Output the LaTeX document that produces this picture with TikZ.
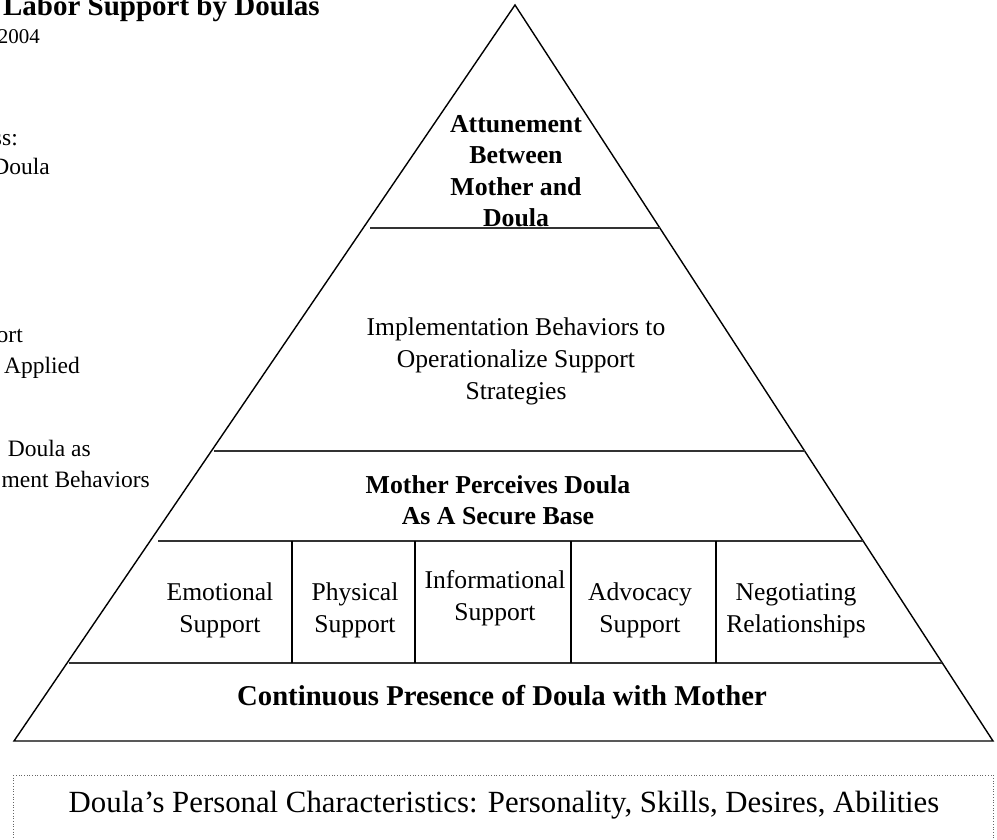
\documentclass[tikz,border=0pt]{standalone}
\usepackage{fontspec}
\setmainfont{Liberation Serif}
\usetikzlibrary{positioning}

\begin{document}
\begin{tikzpicture}[
  x=1pt, y=-1pt,
  % ---- Text styles ----
  txt/.style={align=center, inner sep=0pt, font=\fontsize{25.6}{32}\selectfont},
  btxt/.style={align=center, inner sep=0pt, font=\fontsize{25.8}{31.5}\selectfont\bfseries},
  side/.style={inner sep=0pt, anchor=base east, font=\fontsize{23.5}{28}\selectfont},
  % ---- Lines ----
  edge/.style={line width=1.4pt, line join=miter},
  tier/.style={line width=1.6pt, draw=black!80},
  cell/.style={line width=1.3pt},
  frame/.style={dotted, line width=0.7pt, draw=black!60}
]
\useasboundingbox (0,0) rectangle (997,840);

% ===== Pyramid outline (x, y in px, y downwards) =====
\coordinate (apex) at (515,5);
\coordinate (bl)   at (14,741);
\coordinate (br)   at (993,741);
\draw[edge] (apex) -- (br) -- (bl) -- cycle;

% ===== Tier lines =====
\draw[tier] (370,228) -- (659.8,228);
\draw[tier] (214,451) -- (804.7,451);
\draw[tier] (158,541) -- (863,541);
\draw[tier] (69,663)  -- (942,663);

% cell dividers
\foreach \cx in {292,415,571,716}
  \draw[cell] (\cx,541) -- (\cx,663);

% ===== Tier texts =====
\node[btxt] (attune) at (516,171) {Attunement\\Between\\Mother and\\Doula};
\node[txt]  (impl)   at (516,361) {Implementation Behaviors to\\Operationalize Support\\Strategies};
\node[btxt] (secure) at (498,500) {Mother Perceives Doula\\As A Secure Base};

% Row of support cells
\node[txt] (emo)   at (220,610) {Emotional\\Support};
\node[txt] (phys)  at (355,610) {Physical\\Support};
\node[txt] (info)  at (495,598) {Informational\\Support};
\node[txt] (advoc) at (640,610) {Advocacy\\Support};
\node[txt] (nego)  at (796,611) {Negotiating\\Relationships};

% Base tier
\node[btxt, font=\fontsize{28.7}{34}\selectfont\bfseries] (presence) at (502,696)
  {Continuous Presence of Doula with Mother};

% ===== Side texts (cut at the left margin) =====
\node[side, font=\fontsize{29}{34}\selectfont\bfseries] (title) at (320,16) {Labor Support by Doulas};
\node[side, font=\fontsize{21}{25}\selectfont] (year) at (40,44) {2004};
\node[side] (procA) at (18,146)  {ss:};
\node[side] (procB) at (50,175)  {Doula};
\node[side] (stratA) at (23,342) {ort};
\node[side] (stratB) at (80,373) {Applied};
\node[side] (behA) at (91,456)   {Doula as};
\node[side] (behB) at (150,487)  {ment Behaviors};

% ===== Footing box =====
\draw[frame] (13,775) rectangle (993,870);
\node[txt, font=\fontsize{30.8}{36}\selectfont] (traits) at (504,805)
  {Doula’s Personal Characteristics: Personality, Skills, Desires, Abilities};

\end{tikzpicture}
\end{document}
